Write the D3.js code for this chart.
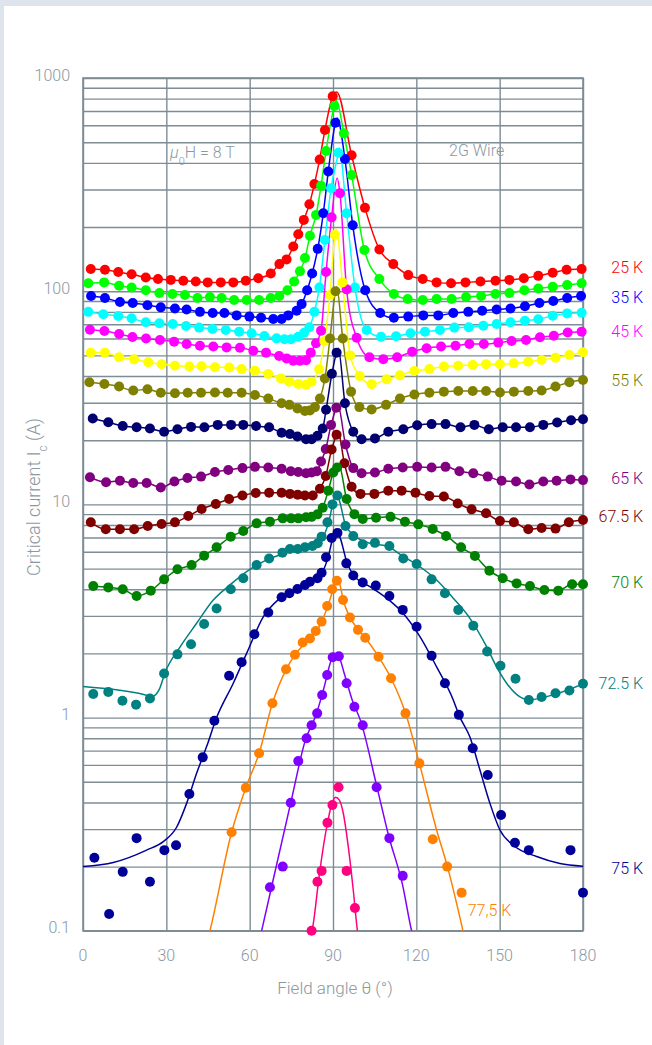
<!DOCTYPE html>
<html lang="en">
<head>
<meta charset="UTF-8">
<title>Critical current vs field angle</title>
<script src="https://d3js.org/d3.v7.min.js"></script>
<style>
  body { margin: 0; background: #dde4eb; }
  svg { display: block; }
  text { font-family: Roboto, "Open Sans", sans-serif; font-weight: 300; fill: #8a98a1; }
</style>
</head>
<body>
<svg id="chart" width="652" height="1045"></svg>
<script>
// axis ticks
var thetaTicks = [0, 30, 60, 90, 120, 150, 180];
var icTicks = [0.1, 1, 10, 100, 1000];
var icTickLabels = ["0.1", "1", "10", "100", "1000"];

// measured points [field angle (deg), Ic (A)]
var d25 = [[2.8,127],[7.9,126],[12.7,123],[17.5,120],[22.6,116],[27,114],[31.6,113],[36.1,112],[40.6,111],[44.9,110],[49.6,110],[54.1,110],[58.6,112],[63.1,115],[67.6,121],[70.7,134],[73.3,141],[75.7,162],[77.5,185],[79.5,216],[81.5,256],[83.3,318],[85.2,415],[87.1,570],[89.9,820],[96.7,434],[101.5,246],[106.7,157],[111.7,134],[117.1,119],[122.3,114],[127.3,110],[132.5,109],[137.7,110],[143.1,111],[148.5,112],[153.5,113],[158.7,115],[163.9,118],[169.1,122],[174.1,126],[179.5,127]];
var d30 = [[1.9,109],[7.6,110],[13,106],[17.5,104],[22.6,101],[27.5,98],[32.2,97],[36.7,96],[41.2,93],[45.7,94],[49.9,93],[54.4,91],[58.9,91],[63.4,91],[67.6,93],[70.7,95],[73.6,101],[76,111],[78.1,124],[79.9,143],[81.7,182],[83.9,228],[85.7,312],[87.5,455],[90.5,739],[93.9,550],[96.7,351],[101.3,156],[106.7,114],[111.9,97],[116.9,92],[122.3,91],[127.3,92],[132.7,92],[137.9,94],[143.3,95],[148.5,97],[153.5,98],[158.9,101],[163.9,103],[169.1,105],[174.3,107],[179.5,109]];
var d35 = [[2.9,95],[7.9,93],[13.3,89],[17.9,88],[23.2,86],[28,84],[33.1,83],[37.3,82],[42.1,80],[46.7,79],[50.9,79],[55.3,77],[59.9,76],[64.1,75],[68.5,74],[71.5,74],[73.9,77],[76.9,81],[78.7,87],[80.7,101],[82.5,121],[84.5,158],[86.5,232],[88.3,364],[90.9,617],[94.3,417],[97.1,204],[101.6,101],[107,79],[111.9,75],[117.1,76],[122.5,77],[127.9,77],[133.3,79],[138.7,80],[143.7,81],[148.9,82],[153.9,83],[159.1,85],[164.3,88],[169.3,90],[174.3,93],[179.3,95]];
var d40 = [[1.9,80],[7.3,78],[12.7,76.5],[17.5,74.6],[22.6,71.5],[27.5,70.7],[32.3,70.2],[37.1,68.7],[41.8,67.5],[46.6,66.5],[51.4,65.8],[56.2,64.6],[60.7,63.5],[65.3,61.6],[69.7,60.1],[72.5,59.5],[74.9,59.5],[77.5,61.2],[79.6,63.9],[81.5,67.7],[83.3,80],[85.1,104],[87.1,174],[89.3,304],[91.9,446],[94.9,232],[97.9,104],[102.1,65.8],[107.3,61.2],[112.7,61.5],[117.9,63.5],[123.1,64.6],[128.5,65.8],[133.7,67.5],[138.9,67.8],[144.1,68.9],[148.9,70.2],[153.9,71.5],[159.1,72.7],[163.9,73.8],[169.1,76.8],[174.3,78.7],[179.5,79.3]];
var d45 = [[2.5,66],[7.7,65],[13,63],[17.8,61],[22.7,60],[27.7,59],[32.8,58],[37.3,56.5],[42.1,55.5],[46.9,55],[51.7,54.5],[56.5,54.3],[61.3,52.6],[65.9,51.5],[70.6,49.7],[73.3,48.4],[75.7,47.2],[78.1,47.2],[80.3,47.4],[82,51.5],[83.9,57],[85.7,65.3],[87.5,123],[89.5,222],[92.5,288],[94.9,102],[98.5,60.5],[103.1,49],[108.1,48],[113.1,49],[118.5,52],[123.7,54],[128.9,55],[134.1,55.5],[139.1,56.5],[144.3,56.5],[149.5,57.4],[154.3,58.4],[159.5,59],[164.5,60.8],[169.5,61.8],[174.5,64],[179.5,64.6]];
var d50 = [[2.8,51.5],[7.9,51.5],[13,49],[18.4,47.9],[23.5,46.4],[28.3,45.4],[33.1,44.7],[38.3,44.3],[42.7,44.5],[47.5,44],[52.6,43.9],[57.1,43.2],[61.9,42.4],[66.7,40.9],[71.3,39],[74.2,37.6],[77.5,36.7],[80.2,36.4],[82.3,37.6],[85,43],[86.9,58.3],[88.9,96],[90.7,184],[93.4,110],[96.2,50],[99.6,40],[103.9,36.6],[109.3,38.6],[114.1,40.3],[119.3,42.2],[124.7,43.2],[129.9,44.3],[135.1,44.7],[140.3,45.1],[145.1,45.4],[150.1,45.4],[155.1,45.9],[160.3,46.7],[165.1,47.6],[170.1,48.8],[175.1,50.2],[180,51.7]];
var d55 = [[2.3,37.4],[7.7,36.7],[13,35.7],[18.1,34.2],[23.2,34.7],[28,33.4],[33.1,33.2],[37.7,33.4],[42.5,33.4],[47.5,33.5],[52.1,33.4],[57.1,33.4],[61.9,32.6],[66.7,31.4],[71.5,29.8],[74.3,29.3],[77.2,28.2],[79.9,27.4],[81.7,27.6],[83.5,28.6],[85.3,31.4],[87.1,39],[88.9,60],[90.9,100],[93.5,60],[96.5,33.8],[99.5,28.6],[103.9,27.9],[109.1,29.3],[114.1,31.4],[119.3,32.8],[124.7,33.4],[129.9,33.8],[135.1,34],[140.3,34],[145.1,34],[150.1,33.5],[155.1,33.8],[160.3,34],[165.1,34.2],[170.1,35.7],[175.1,37.4],[180,38.3]];
var d60 = [[3.5,25.3],[9.1,24.3],[14.3,23.3],[19.3,23],[24.1,22.7],[29.2,21.9],[34,22.5],[38.9,23.1],[43.7,23],[48.5,23.6],[53.3,23.6],[57.7,23.6],[62.3,23.3],[67,23],[71.5,21.7],[74.5,21.4],[77.2,20.8],[80.3,20.2],[82.3,20.2],[84.4,21],[86.3,22.7],[87.5,27.8],[89.6,41],[91.3,51.5],[94.3,29.8],[97.3,21.9],[100.3,20.2],[105.1,20.4],[109.9,21.9],[115.3,22.5],[120.3,23.5],[125.5,23.8],[130.5,23.8],[135.9,23],[140.9,23.6],[146.1,22.5],[151.1,23],[155.9,23],[160.9,23],[165.7,23.6],[170.7,24.2],[175.7,24.8],[180,25.1]];
var d65 = [[2.5,13.4],[8.3,12.7],[13.3,12.9],[18.1,12.6],[22.9,12.6],[28,12],[32.9,12.8],[37.6,13.3],[42.5,13.5],[47.5,14.2],[52.3,14.5],[57.4,14.8],[61.9,15],[66.7,14.9],[71.5,14.7],[74.8,14.3],[77.5,14.2],[80.3,14],[82.3,14.1],[84.2,14.3],[85.7,15.9],[87.4,18.2],[89.3,23.6],[91.2,28.4],[94.5,19.1],[97.3,14.8],[100.3,14],[105.1,14.1],[109.9,14.7],[115.1,14.9],[120.3,15],[125.5,14.9],[130.5,15],[135.5,14.3],[140.5,14],[145.7,13.5],[150.7,12.9],[155.9,12.8],[160.7,12.4],[165.7,12.8],[170.5,12.9],[175.5,13.1],[180,13]];
var d675 = [[2.8,8.24],[8.2,7.64],[13.3,7.64],[18.4,7.64],[23.3,7.92],[28.3,8.09],[33.1,8.24],[37.9,8.82],[42.7,9.51],[47.8,10.04],[52.6,10.6],[57.4,11],[62.2,11.3],[67,11.35],[71.5,11.35],[74.5,11.2],[77.3,11.1],[79.9,11],[82.7,11],[85.3,11.85],[87.4,13.6],[89.5,18.1],[91.3,21.2],[94.1,15.6],[96.7,12.1],[99.9,11.2],[104.9,11.2],[109.9,11.6],[114.7,11.6],[119.7,11.35],[124.7,10.95],[129.9,10.9],[134.9,10.1],[139.9,9.48],[145.1,9.08],[150.1,8.36],[155.1,8.25],[160.3,7.64],[165.1,7.75],[170.1,7.7],[174.9,8.25],[180,8.45]];
var d70 = [[3.7,4.14],[9.1,4.08],[14.3,4.0],[19.3,3.72],[24.4,3.94],[29.2,4.45],[34,4.96],[39.1,5.2],[43.6,5.75],[48.1,6.29],[53.2,7.06],[57.7,7.5],[62.5,8.15],[67.3,8.3],[71.9,8.6],[74.9,8.6],[77.5,8.6],[80.3,8.7],[82.3,8.74],[84.4,8.98],[86.3,9.65],[88.3,11.6],[90.1,14.1],[91.5,14.9],[94.9,10.6],[97.7,9.0],[100.7,8.55],[105.5,8.66],[110.7,8.74],[115.9,8.3],[120.7,8.06],[125.9,7.67],[130.7,7.11],[136.1,6.29],[141.1,5.73],[146.3,4.89],[151.1,4.5],[156.1,4.26],[160.9,4.14],[166.1,3.97],[171.1,3.94],[176.1,4.22],[180,4.22]];
var d725 = [[3.7,1.29],[9.1,1.32],[14.2,1.2],[19.1,1.15],[24.1,1.23],[29.2,1.61],[34,1.98],[38.9,2.21],[43.6,2.75],[48.1,3.25],[53.2,4.0],[57.7,4.5],[62.5,5.2],[67,5.58],[71.8,5.94],[74.5,6.18],[77.3,6.18],[79.9,6.29],[82.6,6.38],[84.5,6.57],[85.9,7.06],[88,8.24],[89.8,10.0],[91.6,11.0],[94.5,7.92],[97.3,7.1],[100.7,6.5],[105.1,6.6],[110.3,6.38],[115.3,5.58],[120.1,5.25],[125.5,4.45],[130.3,3.83],[135.1,3.2],[140.5,2.7],[145.5,2.04],[150.3,1.75],[155.7,1.52],[160.5,1.21],[165.1,1.25],[170.1,1.3],[175.1,1.34],[180,1.44]];
var d75 = [[4.1,0.22],[9.4,0.12],[14.3,0.189],[19.3,0.272],[24.1,0.17],[29.3,0.239],[33.5,0.252],[38.3,0.438],[43.1,0.651],[47.3,0.967],[52.6,1.57],[57.1,1.82],[61.7,2.46],[66.7,3.11],[71.5,3.67],[74.3,3.83],[77.2,4.01],[79.9,4.19],[81.7,4.34],[84.4,4.5],[85.9,4.78],[87.5,5.65],[89.5,6.95],[91.6,7.35],[94.8,5.29],[97.3,4.64],[100.7,4.3],[105.4,4.16],[110.3,3.72],[115.1,3.2],[120.1,2.67],[125.5,1.95],[130.3,1.45],[135.3,1.03],[140.3,0.718],[145.7,0.538],[150.5,0.349],[155.5,0.259],[160.5,0.239],[175.5,0.239],[180,0.151]];
var d775 = [[53.5,0.29],[58.6,0.469],[63.4,0.68],[68.2,1.167],[73.1,1.685],[76.3,1.97],[79.1,2.25],[81.7,2.35],[83.8,2.55],[85.9,2.82],[87.9,3.34],[89.7,4.0],[91.4,4.38],[93.6,3.56],[96.1,2.95],[99,2.58],[101.6,2.37],[106.4,1.93],[110.9,1.53],[116.1,1.047],[121.1,0.61],[125.9,0.269],[131.1,0.2],[136.3,0.151]];
var d80 = [[67.3,0.16],[71.9,0.2],[74.8,0.399],[77.5,0.626],[80.5,0.8],[82.3,0.92],[84.3,1.047],[86.1,1.276],[87.9,1.585],[89.9,1.92],[92.1,1.94],[94.9,1.45],[97.7,1.125],[100.7,0.92],[105.7,0.471],[110.3,0.272],[115.1,0.181]];
var d825 = [[82.3,0.1],[84.4,0.17],[85.9,0.191],[88,0.321],[89.8,0.389],[92,0.471],[94.9,0.191],[97.9,0.128]];

// apex of the fitted curve for the colder runs (the fit passes through the points elsewhere)
var peak25 = [91.3, 860], peak30 = [91.2, 785], peak35 = [91.5, 650], peak40 = [92.2, 470],
    peak45 = [91.5, 340], peak50 = [91.2, 195], peak55 = [91.3, 105], peak60 = [91.9, 54],
    peak65 = [91.7, 29.5], peak675 = [91.8, 22], peak70 = [92.1, 15.4];

// fitted curves for the warmer runs
var fit725 = [[0,1.40],[12,1.35],[20,1.30],[25,1.26],[27.5,1.36],[29.5,1.62],[34.9,2.14],[40.9,2.77],[46.9,3.56],[52.9,4.19],[58.9,4.84],[64.9,5.39],[70.9,5.79],[76.9,6.11],[82.9,6.38],[86.5,7.06],[88.5,8.3],[90.1,10.3],[91.3,11.3],[92.5,10.2],[94.5,8.0],[97.3,7.2],[103.3,6.57],[109.3,6.38],[115.3,5.7],[121.3,5.1],[127.3,4.42],[133.3,3.63],[139.3,2.92],[145.3,2.15],[148.9,1.73],[152.5,1.45],[157.3,1.25],[160.3,1.21],[169.3,1.28],[180,1.44]];
var fit75 = [[0,0.200],[10.9,0.209],[22.9,0.239],[28.9,0.262],[33.7,0.306],[37.3,0.396],[40.9,0.548],[44.5,0.731],[48.1,1.0],[54.1,1.45],[58.9,2.0],[64.9,2.97],[70.9,3.63],[76.9,4.04],[82.9,4.5],[86.5,4.92],[88.3,5.69],[90.1,7.06],[91.3,7.4],[92.5,7.0],[94.9,5.41],[97.3,4.67],[103.3,4.11],[109.3,3.63],[115.3,3.08],[121.3,2.4],[127.3,1.73],[133.3,1.21],[135.3,1.03],[139.3,0.81],[142.9,0.568],[146.5,0.396],[150.1,0.297],[154.9,0.252],[163.3,0.223],[171.7,0.207],[180,0.201]];
var fit775 = [[44.8,0.09],[45.7,0.1],[53.5,0.29],[58.6,0.469],[63.4,0.68],[68.2,1.167],[73.1,1.68],[76.3,1.97],[79.5,2.2],[83,2.45],[86,2.82],[88,3.3],[90.1,4.0],[91.4,4.45],[92.5,4.2],[93.6,3.6],[96.1,2.95],[99,2.6],[101.6,2.37],[106.4,1.93],[110.9,1.53],[116.1,1.05],[121.1,0.61],[127.3,0.297],[131.2,0.2],[136.8,0.1],[137.6,0.09]];
var fit80 = [[63.5,0.09],[64.3,0.1],[75,0.41],[80,0.78],[84,1.04],[87,1.42],[89,1.8],[90.5,2.0],[92,1.95],[94,1.62],[97,1.2],[100,0.96],[105.7,0.48],[110,0.28],[115,0.165],[118.3,0.1],[119,0.092]];
var fit825 = [[82.2,0.095],[83,0.11],[85,0.18],[88,0.32],[89.5,0.39],[90.9,0.423],[92.3,0.41],[93.7,0.356],[95.5,0.248],[97.3,0.155],[98.8,0.1],[99.2,0.092]];

var colors = ["#ff0000", "#00ff00", "#0000ff", "#00ffff", "#ff00ff", "#ffff00", "#808000", "#000070",
              "#800080", "#800000", "#008000", "#008080", "#000099", "#ff8000", "#8000ff", "#ff0080"];

function withPeak(pts, pk) {
    return pts.concat([pk]).sort(function (a, b) { return a[0] - b[0]; });
}

var series = [
    { dots: d25, fit: withPeak(d25, peak25) },
    { dots: d30, fit: withPeak(d30, peak30) },
    { dots: d35, fit: withPeak(d35, peak35) },
    { dots: d40, fit: withPeak(d40, peak40) },
    { dots: d45, fit: withPeak(d45, peak45) },
    { dots: d50, fit: withPeak(d50, peak50) },
    { dots: d55, fit: withPeak(d55, peak55) },
    { dots: d60, fit: withPeak(d60, peak60) },
    { dots: d65, fit: withPeak(d65, peak65) },
    { dots: d675, fit: withPeak(d675, peak675) },
    { dots: d70, fit: withPeak(d70, peak70) },
    { dots: d725, fit: fit725 },
    { dots: d75, fit: fit75 },
    { dots: d775, fit: fit775 },
    { dots: d80, fit: fit80 },
    { dots: d825, fit: fit825 }
];
series.forEach(function (s, i) { s.color = colors[i]; });

// temperature labels on the right and their height (in A)
var labelNames = ["25 K", "35 K", "45 K", "55 K", "65 K", "67.5 K", "70 K", "72.5 K", "75 K"];
var labelValues = [130, 93.9, 65.1, 38.3, 13.3, 8.82, 4.33, 1.45, 0.197];
var labelColors = ["#ff0000", "#0000ff", "#ff00ff", "#808000", "#800080", "#800000", "#008000", "#008080", "#000099"];
var label775 = { text: "77,5 K", angle: 138.5, value: 0.124, color: "#ff8000" };

var svg = d3.select("#chart");

// white panel
svg.append("rect").attr("x", 4).attr("y", 6).attr("width", 648).attr("height", 1039).attr("fill", "#fff");

var x = d3.scaleLinear().domain([0, 180]).range([83, 583]);
var y = d3.scaleLog().domain([0.1, 1000]).range([930.8, 78]);

var gridColor = "#7e8c94";

// horizontal grid (log minor lines)
svg.append("g")
    .attr("transform", "translate(83,0)")
    .call(d3.axisLeft(y).tickSize(-500).tickFormat(""))
    .call(function (g) { g.select(".domain").remove(); })
    .selectAll("line").attr("stroke", gridColor).attr("stroke-width", 1.4);

// vertical grid
svg.append("g")
    .attr("transform", "translate(0,930.8)")
    .call(d3.axisBottom(x).tickValues(thetaTicks).tickSize(-852.8).tickFormat(""))
    .call(function (g) { g.select(".domain").remove(); })
    .selectAll("line").attr("stroke", gridColor).attr("stroke-width", 1.4);

svg.append("rect")
    .attr("x", 83).attr("y", 78).attr("width", 500).attr("height", 852.8)
    .attr("fill", "none").attr("stroke", gridColor).attr("stroke-width", 1.6);

// tick labels
svg.selectAll(".ylab").data(icTicks).enter().append("text")
    .attr("x", 70).attr("y", function (d) { return y(d) - 3; })
    .attr("dy", "0.35em").attr("text-anchor", "end").style("font-size", "16px")
    .text(function (d, i) { return icTickLabels[i]; });

svg.selectAll(".xlab").data(thetaTicks).enter().append("text")
    .attr("x", function (d) { return x(d); }).attr("y", 961)
    .attr("text-anchor", "middle").style("font-size", "16px")
    .text(function (d) { return d; });

// axis titles
svg.append("text").attr("x", 335).attr("y", 994).attr("text-anchor", "middle")
    .style("font-size", "17px").text("Field angle θ (°)");

var yt = svg.append("text").attr("transform", "translate(40,497) rotate(-90)")
    .attr("text-anchor", "middle").style("font-size", "18px");
yt.append("tspan").text("Critical current I");
yt.append("tspan").attr("baseline-shift", "sub").style("font-size", "12px").text("c");
yt.append("tspan").text(" (A)");

// annotations
var ann = svg.append("text").attr("x", 170).attr("y", 158).style("font-size", "16px");
ann.append("tspan").style("font-style", "italic").text("μ");
ann.append("tspan").attr("baseline-shift", "sub").style("font-size", "11px").text("0");
ann.append("tspan").text("H = 8 T");

svg.append("text").attr("x", 449).attr("y", 156).style("font-size", "16px").text("2G Wire");

// curves
svg.append("clipPath").attr("id", "plot-clip")
    .append("rect").attr("x", 83).attr("y", 78).attr("width", 500).attr("height", 852.8);

var line = d3.line()
    .x(function (d) { return x(d[0]); })
    .y(function (d) { return y(d[1]); })
    .curve(d3.curveMonotoneX);

svg.append("g").attr("clip-path", "url(#plot-clip)")
    .selectAll("path").data(series).enter().append("path")
    .attr("d", function (d) { return line(d.fit); })
    .attr("fill", "none")
    .attr("stroke", function (d) { return d.color; })
    .attr("stroke-width", 1.5);

// points
svg.selectAll(".pts").data(series).enter().append("g")
    .attr("fill", function (d) { return d.color; })
    .selectAll("circle").data(function (d) { return d.dots; }).enter().append("circle")
    .attr("cx", function (d) { return x(d[0]); })
    .attr("cy", function (d) { return y(d[1]); })
    .attr("r", 5);

// temperature labels
svg.selectAll(".tlab").data(labelNames).enter().append("text")
    .attr("x", 643)
    .attr("y", function (d, i) { return y(labelValues[i]); })
    .attr("dy", "0.35em").attr("text-anchor", "end")
    .style("font-size", "16px")
    .style("fill", function (d, i) { return labelColors[i]; })
    .text(function (d) { return d; });

svg.append("text")
    .attr("x", x(label775.angle)).attr("y", y(label775.value))
    .attr("dy", "0.35em").style("font-size", "16px")
    .style("fill", label775.color)
    .text(label775.text);
</script>
</body>
</html>
